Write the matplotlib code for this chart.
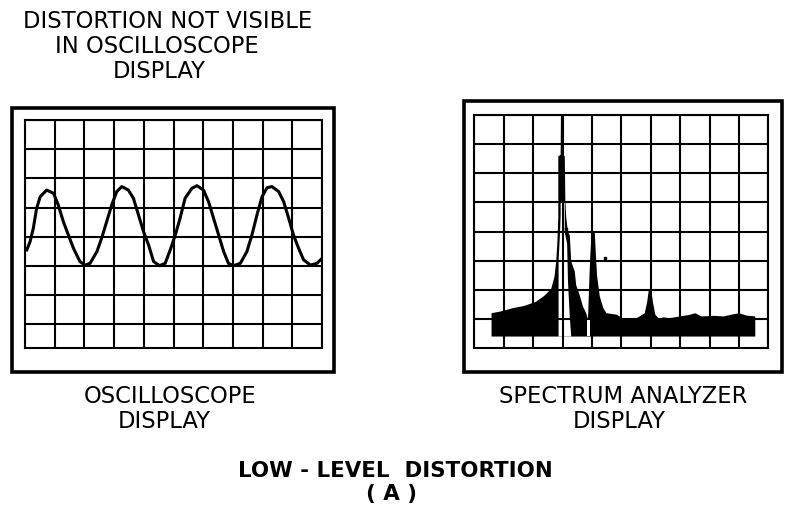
import matplotlib
matplotlib.use('Agg')
import matplotlib.pyplot as plt
from matplotlib.patches import Rectangle

W, H = 785, 513

# oscilloscope trace, in graticule divisions (x 0..10, y from bottom)
wave_x = [0.06, 0.17, 0.28, 0.39, 0.51, 0.73, 0.96, 1.12, 1.29, 1.46,
          1.63, 1.85, 2.02, 2.19, 2.42, 2.58, 2.75, 2.92, 3.09, 3.26,
          3.48, 3.65, 3.82, 3.99, 4.16, 4.33, 4.53, 4.72, 4.89, 5.06,
          5.22, 5.39, 5.62, 5.79, 6.01, 6.18, 6.35, 6.52, 6.69, 6.85,
          7.02, 7.25, 7.47, 7.64, 7.81, 7.98, 8.15, 8.31, 8.54, 8.71,
          8.88, 9.04, 9.21, 9.38, 9.61, 9.83, 10.0]
wave_y = [3.55, 3.83, 4.29, 4.97, 5.37, 5.60, 5.49, 5.09, 4.52, 4.06,
          3.61, 3.15, 3.03, 3.09, 3.49, 3.95, 4.52, 5.09, 5.55, 5.72,
          5.60, 5.32, 4.75, 4.18, 3.72, 3.15, 3.01, 3.09, 3.55, 4.06,
          4.63, 5.32, 5.66, 5.75, 5.60, 5.20, 4.63, 4.06, 3.49, 3.09,
          3.01, 3.09, 3.49, 4.06, 4.75, 5.37, 5.68, 5.72, 5.55, 5.20,
          4.63, 4.06, 3.61, 3.21, 3.03, 3.09, 3.26]

# spectrum analyzer trace (upper envelope of the filled trace)
spec_base = 0.42
spec_x = [0.57, 0.57, 0.88, 1.28, 1.68, 2.08, 2.37, 2.60, 2.71, 2.77,
          2.81, 2.84, 2.84, 2.92, 2.93, 3.00, 3.00, 3.06, 3.08, 3.11,
          3.17, 3.23, 3.28, 3.40, 3.45, 3.57, 3.68, 3.79, 3.85, 3.90,
          3.93, 3.97, 4.00, 4.08, 4.12, 4.16, 4.25, 4.37, 4.48, 4.83,
          5.06, 5.50, 5.61, 5.78, 5.86, 5.92, 6.00, 6.06, 6.14, 6.29,
          6.40, 6.62, 7.29, 7.50, 7.71, 8.14, 8.46, 8.78, 9.00, 9.24,
          9.54, 9.54]
spec_top = [0.42, 1.22, 1.28, 1.39, 1.47, 1.61, 1.82, 2.06, 2.47, 3.00,
            3.70, 4.50, 6.60, 6.65, 8.00, 8.00, 6.65, 6.60, 5.10, 4.50,
            4.00, 3.90, 3.00, 2.65, 2.18, 1.83, 1.45, 1.22, 1.00, 2.50,
            3.20, 3.90, 4.00, 4.00, 3.20, 2.50, 1.80, 1.40, 1.22, 1.17,
            1.03, 1.05, 1.11, 1.22, 1.59, 2.02, 2.02, 1.59, 1.17, 1.00,
            1.08, 1.05, 1.16, 1.22, 1.11, 1.13, 1.11, 1.18, 1.22, 1.14,
            1.11, 0.42]

# white interior of the main peak, and the slot before the 2nd harmonic
hollow_x = [2.85, 2.85, 2.90, 2.92, 2.92, 3.06, 3.06, 3.14, 3.17, 3.23, 3.28]
hollow_top = [0.42, 3.00, 4.00, 4.60, 5.05, 5.05, 4.00, 3.60, 2.30, 1.10, 0.42]
slot_x = [3.85, 3.94]
slot_top = [0.98, 0.98]

dot_x = [3.11, 4.43]
dot_y = [4.10, 3.10]

plt.rcParams['font.family'] = ['DejaVu Sans']

fig = plt.figure(figsize=(W / 100, H / 100), dpi=100)
fig.patch.set_facecolor('white')

bg = fig.add_axes([0, 0, 1, 1])
bg.set_xlim(0, W)
bg.set_ylim(H, 0)
bg.axis('off')


def px_axes(x0, y0, x1, y1):
    return fig.add_axes([x0 / W, 1 - y1 / H, (x1 - x0) / W, (y1 - y0) / H])


def graticule(ax, ymin):
    ax.set_xlim(0, 10)
    ax.set_ylim(ymin, 8)
    ax.set_xticks(range(11))
    ax.set_yticks(range(1, 9))
    ax.tick_params(length=0, labelbottom=False, labelleft=False)
    ax.set_axisbelow(False)
    ax.grid(True, color='black', linewidth=1.5)
    for s in ax.spines.values():
        s.set_linewidth(1.5)
        s.set_zorder(4)


# outer cabinet frames
bg.add_patch(Rectangle((11.5, 107.5), 322, 264, fill=False, lw=2.6, ec='black'))
bg.add_patch(Rectangle((463.5, 100.5), 318, 271, fill=False, lw=2.6, ec='black'))

# oscilloscope
ax1 = px_axes(25, 120, 322, 348.3)
graticule(ax1, 0.18)
ax1.plot(wave_x, wave_y, color='black', lw=2.2, zorder=5, solid_joinstyle='round')

# spectrum analyzer
ax2 = px_axes(474.3, 115, 768.3, 348.3)
graticule(ax2, 0)
ax2.fill_between(spec_x, spec_base, spec_top, color='black', lw=0, zorder=1)
ax2.fill_between(hollow_x, spec_base, hollow_top, color='white', lw=0, zorder=1.2)
ax2.fill_between(slot_x, spec_base, slot_top, color='white', lw=0, zorder=1.2)
ax2.scatter(dot_x, dot_y, s=4, marker='s', color='black', zorder=5)

# labels
fs = 16.3
bg.text(167.5, 28, 'DISTORTION NOT VISIBLE', ha='center', va='baseline', fontsize=fs)
bg.text(157, 53, 'IN OSCILLOSCOPE', ha='center', va='baseline', fontsize=fs)
bg.text(159, 78, 'DISPLAY', ha='center', va='baseline', fontsize=fs)

bg.text(170, 403, 'OSCILLOSCOPE', ha='center', va='baseline', fontsize=fs)
bg.text(164, 428, 'DISPLAY', ha='center', va='baseline', fontsize=fs)
bg.text(623, 403, 'SPECTRUM ANALYZER', ha='center', va='baseline', fontsize=fs)
bg.text(619, 428, 'DISPLAY', ha='center', va='baseline', fontsize=fs)

bg.text(395, 477, 'LOW - LEVEL  DISTORTION', ha='center', va='baseline',
        fontsize=15.4, fontweight='bold')
bg.text(392, 500, '( A )', ha='center', va='baseline', fontsize=15.4, fontweight='bold')

fig.savefig('out.png', dpi=100, facecolor='white')
